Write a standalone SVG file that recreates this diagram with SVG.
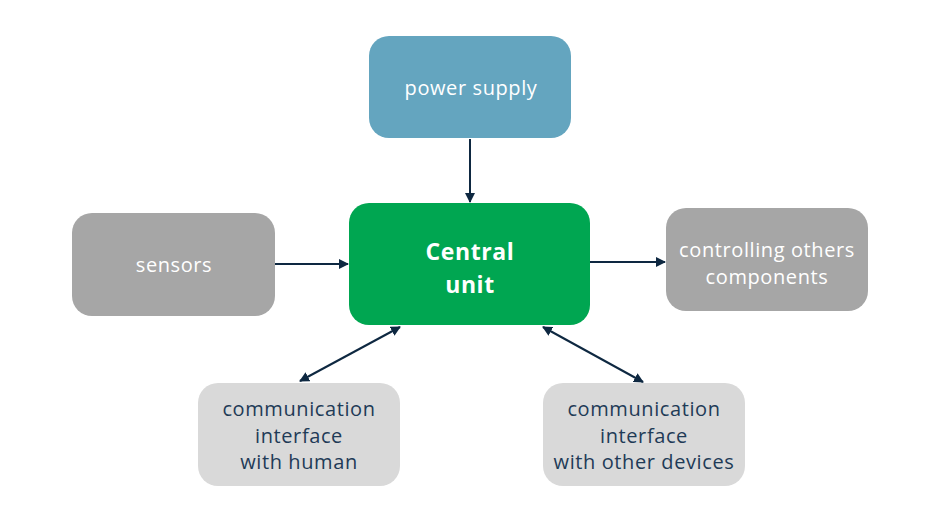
<svg xmlns="http://www.w3.org/2000/svg" width="940" height="529" viewBox="0 0 940 529">
<defs>
<style>
.t{font-family:"Open Sans","Noto Sans","Liberation Sans",sans-serif;font-size:20px;letter-spacing:0.6px;text-anchor:middle}
.w{fill:#ffffff}
.d{fill:#1f3b57}
.b{font-weight:bold;font-size:23px;letter-spacing:0.6px}
.c{stroke:#0e2841;stroke-width:2;fill:none}
</style>
<marker id="ah" viewBox="0 0 10 10" refX="9" refY="5" markerWidth="5" markerHeight="5" orient="auto-start-reverse">
<path d="M0,0 L10,5 L0,10 z" fill="#0e2841"/>
</marker>
</defs>
<rect width="940" height="529" fill="#ffffff"/>
<g id="connectors">
<line class="c" x1="470" y1="139" x2="470" y2="202" marker-end="url(#ah)"/>
<line class="c" x1="275" y1="264" x2="348" y2="264" marker-end="url(#ah)"/>
<line class="c" x1="590" y1="262" x2="665" y2="262" marker-end="url(#ah)"/>
<line class="c" x1="400" y1="327" x2="300" y2="381" marker-start="url(#ah)" marker-end="url(#ah)"/>
<line class="c" x1="543" y1="327" x2="643" y2="382" marker-start="url(#ah)" marker-end="url(#ah)"/>
</g>
<g id="power">
<rect x="369" y="36" width="202" height="102" rx="20" fill="#64a5bf"/>
<text class="t w" x="471" y="95">power supply</text>
</g>
<g id="central">
<rect x="349" y="203" width="241" height="122" rx="20" fill="#00a651"/>
<text class="t w b" x="470" y="260">Central</text>
<text class="t w b" x="470" y="293">unit</text>
</g>
<g id="sensors">
<rect x="72" y="213" width="203" height="103" rx="20" fill="#a6a6a6"/>
<text class="t w" x="174" y="272">sensors</text>
</g>
<g id="controlling">
<rect x="666" y="208" width="202" height="103" rx="20" fill="#a6a6a6"/>
<text class="t w" x="767" y="257">controlling others</text>
<text class="t w" x="767" y="284">components</text>
</g>
<g id="human">
<rect x="198" y="383" width="202" height="103" rx="20" fill="#d9d9d9"/>
<text class="t d" x="299" y="416">communication</text>
<text class="t d" x="299" y="443">interface</text>
<text class="t d" x="299" y="469">with human</text>
</g>
<g id="devices">
<rect x="543" y="383" width="202" height="103" rx="20" fill="#d9d9d9"/>
<text class="t d" x="644" y="416">communication</text>
<text class="t d" x="644" y="443">interface</text>
<text class="t d" x="644" y="469">with other devices</text>
</g>
</svg>
